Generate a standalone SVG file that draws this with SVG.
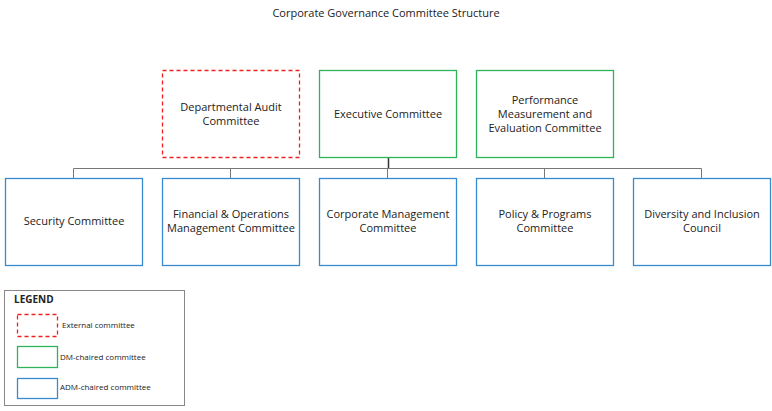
<svg xmlns="http://www.w3.org/2000/svg" width="772" height="411" viewBox="0 0 772 411">
<style>
text{font-family:"Open Sans","Liberation Sans",sans-serif;fill:#222;text-anchor:middle;font-size:11px}
.ext{fill:#fff;stroke:#f02020;stroke-width:1.3;stroke-dasharray:4,3}
.dm{fill:#fff;stroke:#2db35a;stroke-width:1.3}
.adm{fill:#fff;stroke:#3a8ad0;stroke-width:1.3}
.c{stroke:#777;stroke-width:1;fill:none}
.lg{font-size:8px;text-anchor:start}
</style>
<rect width="772" height="411" fill="#fff"/>
<text x="386" y="17" font-size="13.5">Corporate Governance Committee Structure</text>
<g id="connectors">
<path class="c" d="M73.5 168.5H701.5M73.5 168.5V178M230.5 168.5V178M387.5 168.5V178M544.5 168.5V178M701.5 168.5V178"/>
<path d="M388.5 157V168" stroke="#333" stroke-width="1.5"/>
</g>
<g id="audit"><rect class="ext" x="162.5" y="70.5" width="137" height="87"/><text x="231" y="111">Departmental Audit</text><text x="231" y="125">Committee</text></g>
<g id="exec"><rect class="dm" x="319.5" y="70.5" width="137" height="87"/><text x="388" y="118">Executive Committee</text></g>
<g id="perf"><rect class="dm" x="476.5" y="70.5" width="137" height="87"/><text x="545" y="104">Performance</text><text x="545" y="118">Measurement and</text><text x="545" y="132">Evaluation Committee</text></g>
<g id="security"><rect class="adm" x="5.5" y="178.5" width="137" height="87"/><text x="74" y="225">Security Committee</text></g>
<g id="finance"><rect class="adm" x="162.5" y="178.5" width="137" height="87"/><text x="231" y="218">Financial &amp; Operations</text><text x="231" y="232">Management Committee</text></g>
<g id="corp"><rect class="adm" x="319.5" y="178.5" width="137" height="87"/><text x="388" y="218">Corporate Management</text><text x="388" y="232">Committee</text></g>
<g id="policy"><rect class="adm" x="476.5" y="178.5" width="137" height="87"/><text x="545" y="218">Policy &amp; Programs</text><text x="545" y="232">Committee</text></g>
<g id="diversity"><rect class="adm" x="633.5" y="178.5" width="137" height="87"/><text x="702" y="218">Diversity and Inclusion</text><text x="702" y="232">Council</text></g>
<g id="legend">
<rect x="4.5" y="290.5" width="180" height="115" fill="#fff" stroke="#888" stroke-width="1"/>
<text x="14" y="303" class="lg" style="font-size:10px" font-weight="bold">LEGEND</text>
<rect class="ext" x="17.5" y="314.5" width="40" height="22"/><text class="lg" x="62" y="328">External committee</text>
<rect class="dm" x="17.5" y="346.5" width="40" height="21"/><text class="lg" x="60" y="360">DM-chaired committee</text>
<rect class="adm" x="17.5" y="378.5" width="40" height="20"/><text class="lg" x="60" y="390">ADM-chaired committee</text>
</g>
</svg>
